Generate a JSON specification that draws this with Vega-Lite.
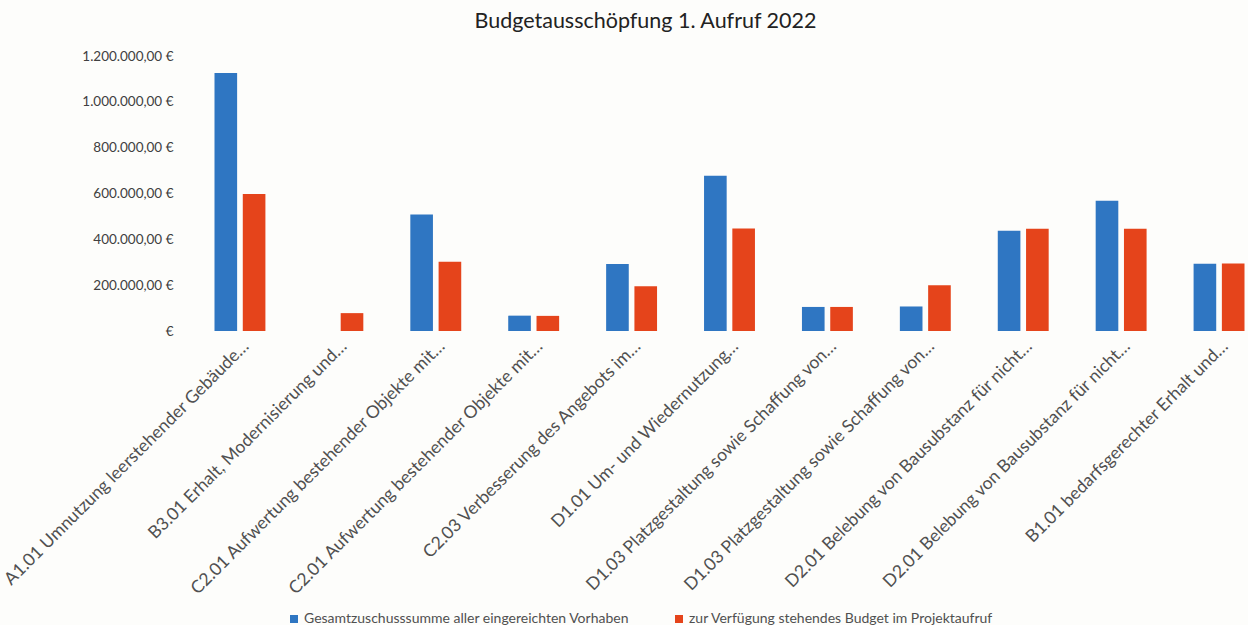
{
  "$schema": "https://vega.github.io/schema/vega-lite/v6.json",
  "width": 1077,
  "height": 275,
  "padding": {"left": 0, "top": 10, "right": 0, "bottom": 0},
  "background": "#fdfdfb",
  "title": {
    "text": "Budgetausschöpfung 1. Aufruf 2022",
    "anchor": "middle",
    "frame": "group",
    "dx": -84,
    "offset": 17,
    "font": "Lato",
    "fontSize": 21.5,
    "fontWeight": "normal",
    "color": "#222222"
  },
  "data": {
    "values": [
      {"cat": "01|A1.01 Umnutzung leerstehender Gebäude…", "series": "Gesamtzuschusssumme aller eingereichten Vorhaben", "value": 1126000},
      {"cat": "01|A1.01 Umnutzung leerstehender Gebäude…", "series": "zur Verfügung stehendes Budget im Projektaufruf", "value": 598000},
      {"cat": "02|B3.01 Erhalt, Modernisierung und…", "series": "Gesamtzuschusssumme aller eingereichten Vorhaben", "value": 0},
      {"cat": "02|B3.01 Erhalt, Modernisierung und…", "series": "zur Verfügung stehendes Budget im Projektaufruf", "value": 78000},
      {"cat": "03|C2.01 Aufwertung bestehender Objekte mit…", "series": "Gesamtzuschusssumme aller eingereichten Vorhaben", "value": 508000},
      {"cat": "03|C2.01 Aufwertung bestehender Objekte mit…", "series": "zur Verfügung stehendes Budget im Projektaufruf", "value": 302000},
      {"cat": "04|C2.01 Aufwertung bestehender Objekte mit…", "series": "Gesamtzuschusssumme aller eingereichten Vorhaben", "value": 67000},
      {"cat": "04|C2.01 Aufwertung bestehender Objekte mit…", "series": "zur Verfügung stehendes Budget im Projektaufruf", "value": 66000},
      {"cat": "05|C2.03 Verbesserung des Angebots im…", "series": "Gesamtzuschusssumme aller eingereichten Vorhaben", "value": 292000},
      {"cat": "05|C2.03 Verbesserung des Angebots im…", "series": "zur Verfügung stehendes Budget im Projektaufruf", "value": 195000},
      {"cat": "06|D1.01 Um- und Wiedernutzung…", "series": "Gesamtzuschusssumme aller eingereichten Vorhaben", "value": 677000},
      {"cat": "06|D1.01 Um- und Wiedernutzung…", "series": "zur Verfügung stehendes Budget im Projektaufruf", "value": 447000},
      {"cat": "07|D1.03 Platzgestaltung sowie Schaffung von…", "series": "Gesamtzuschusssumme aller eingereichten Vorhaben", "value": 105000},
      {"cat": "07|D1.03 Platzgestaltung sowie Schaffung von…", "series": "zur Verfügung stehendes Budget im Projektaufruf", "value": 105000},
      {"cat": "08|D1.03 Platzgestaltung sowie Schaffung von…", "series": "Gesamtzuschusssumme aller eingereichten Vorhaben", "value": 107000},
      {"cat": "08|D1.03 Platzgestaltung sowie Schaffung von…", "series": "zur Verfügung stehendes Budget im Projektaufruf", "value": 200000},
      {"cat": "09|D2.01 Belebung von Bausubstanz für nicht…", "series": "Gesamtzuschusssumme aller eingereichten Vorhaben", "value": 437000},
      {"cat": "09|D2.01 Belebung von Bausubstanz für nicht…", "series": "zur Verfügung stehendes Budget im Projektaufruf", "value": 446000},
      {"cat": "10|D2.01 Belebung von Bausubstanz für nicht…", "series": "Gesamtzuschusssumme aller eingereichten Vorhaben", "value": 568000},
      {"cat": "10|D2.01 Belebung von Bausubstanz für nicht…", "series": "zur Verfügung stehendes Budget im Projektaufruf", "value": 446000},
      {"cat": "11|B1.01 bedarfsgerechter Erhalt und…", "series": "Gesamtzuschusssumme aller eingereichten Vorhaben", "value": 293000},
      {"cat": "11|B1.01 bedarfsgerechter Erhalt und…", "series": "zur Verfügung stehendes Budget im Projektaufruf", "value": 295000}
    ]
  },
  "mark": {"type": "bar"},
  "encoding": {
    "x": {
      "field": "cat",
      "type": "nominal",
      "sort": "ascending",
      "scale": {"paddingInner": 0.48, "paddingOuter": 0.24},
      "axis": {
        "title": null,
        "labelAngle": -45,
        "labelExpr": "split(datum.label, '|')[1]",
        "labelFont": "Lato",
        "labelFontSize": 17.5,
        "labelColor": "#505050",
        "labelLimit": 500,
        "labelPadding": 6,
        "ticks": false,
        "domain": false,
        "grid": false
      }
    },
    "xOffset": {
      "field": "series",
      "type": "nominal",
      "scale": {"paddingInner": 0.2}
    },
    "y": {
      "field": "value",
      "type": "quantitative",
      "scale": {"domain": [0, 1200000], "nice": false},
      "axis": {
        "title": null,
        "values": [0, 200000, 400000, 600000, 800000, 1000000, 1200000],
        "labelExpr": "datum.value == 0 ? '€' : replace(format(datum.value, ',d'), regexp(',', 'g'), '.') + ',00 €'",
        "labelFont": "Lato",
        "labelFontSize": 13.5,
        "labelColor": "#404040",
        "labelPadding": 18,
        "ticks": false,
        "domain": false,
        "grid": false
      }
    },
    "color": {
      "field": "series",
      "type": "nominal",
      "scale": {"range": ["#2f76c2", "#e5441b"]},
      "legend": {
        "title": null,
        "orient": "none",
        "direction": "horizontal",
        "legendX": 96,
        "legendY": 556,
        "symbolType": "square",
        "symbolSize": 64,
        "symbolStrokeWidth": 0,
        "labelFont": "Lato",
        "labelFontSize": 14,
        "labelColor": "#505050",
        "labelLimit": 500,
        "labelOffset": 3,
        "columnPadding": 42
      }
    }
  },
  "config": {"view": {"stroke": null}}
}
